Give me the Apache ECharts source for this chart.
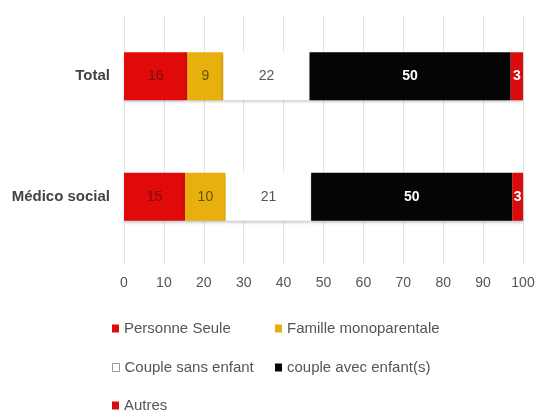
<!DOCTYPE html>
<html lang="fr">
<head>
    <meta charset="UTF-8">
    <title>Structure familiale</title>
    <script src="https://cdn.jsdelivr.net/npm/echarts@6/dist/echarts.min.js"></script>
    <style>
        html, body { margin: 0; padding: 0; background: #fff; }
    </style>
</head>
<body>
    <div id="main" style="width: 541px; height: 410px;"></div>
    <script>
        // catégories (de bas en haut pour l'axe)
        const categories = ['Médico social', 'Total']
        const seriesNames = ['Personne Seule', 'Famille monoparentale', 'Couple sans enfant', 'couple avec enfant(s)', 'Autres']
        // valeurs estimées sur l'image (étiquettes arrondies)
        const personneSeule = [15.3, 15.9]
        const familleMono = [10.2, 9.0]
        const coupleSans = [21.4, 21.6]
        const coupleAvec = [50.4, 50.4]
        const autres = [2.7, 3.1]
        const xTicks = [0, 10, 20, 30, 40, 50, 60, 70, 80, 90, 100]

        const values = [personneSeule, familleMono, coupleSans, coupleAvec, autres]
        const colors = ['#e00a0a', '#e8b00c', '#ffffff', '#050505', '#d80c0c']
        const labelColors = ['#7a0c0c', '#6b4e00', '#555555', '#ffffff', '#ffffff']
        const font = 'Liberation Sans Narrow, Arial Narrow, Liberation Sans, sans-serif'

        const myChart = echarts.init(document.getElementById('main'))

        const series = seriesNames.map((name, i) => ({
            name,
            type: 'bar',
            stack: 'total',
            barWidth: 48,
            data: values[i],
            itemStyle: {
                color: colors[i],
                shadowColor: 'rgba(0,0,0,0.25)',
                shadowBlur: 3,
                shadowOffsetY: 2
            },
            label: {
                show: true,
                position: 'inside',
                color: labelColors[i],
                fontSize: 14,
                fontWeight: i >= 3 ? 'bold' : 'normal',
                fontFamily: font,
                formatter: p => Math.round(p.value)
            }
        }))

        // légende en deux colonnes
        const legendPos = [[107, 316], [270, 316], [107, 355], [270, 355], [107, 393]]
        const legend = seriesNames.map((name, i) => ({
            data: [name],
            left: legendPos[i][0],
            top: legendPos[i][1],
            itemWidth: 7,
            itemHeight: 8,
            itemGap: 4,
            icon: 'rect',
            selectedMode: false,
            textStyle: {
                color: '#555',
                fontSize: 15,
                fontFamily: font
            },
            itemStyle: i === 2 ? { borderColor: '#999', borderWidth: 1 } : {}
        }))

        const option = {
            animation: false,
            backgroundColor: '#fff',
            grid: { left: 124, right: 18, top: 16, bottom: 153, containLabel: false },
            legend,
            xAxis: {
                type: 'value',
                min: 0,
                max: 100,
                interval: 10,
                axisLine: { show: false },
                axisTick: { show: true, length: 6, lineStyle: { color: '#ddd' } },
                splitLine: { show: true, lineStyle: { color: '#e2e2e2' } },
                axisLabel: {
                    color: '#555',
                    fontSize: 14,
                    margin: 19,
                    fontFamily: font,
                    formatter: v => xTicks.includes(v) ? String(v) : ''
                }
            },
            yAxis: {
                type: 'category',
                data: categories,
                axisLine: { show: false },
                axisTick: { show: false },
                axisLabel: {
                    color: '#444',
                    fontSize: 15,
                    fontWeight: 'bold',
                    margin: 14,
                    fontFamily: font
                }
            },
            series
        }

        myChart.setOption(option)
    </script>
</body>
</html>
